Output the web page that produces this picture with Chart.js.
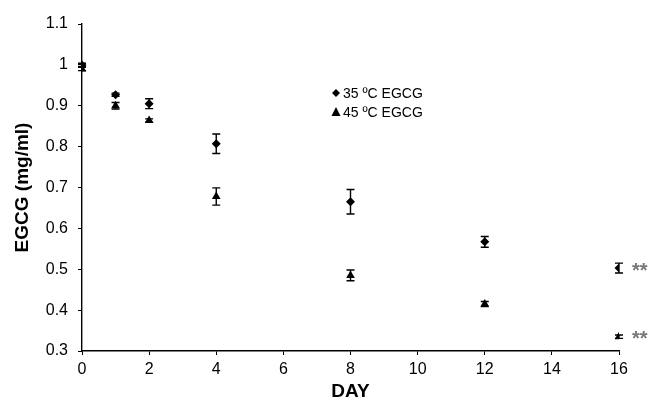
<!DOCTYPE html>
<html>
<head>
<meta charset="utf-8">
<script src="https://cdn.jsdelivr.net/npm/chart.js@4/dist/chart.umd.min.js"></script>
<style>
html,body{margin:0;padding:0;background:#fff;}
#wrap{width:656px;height:403px;position:relative;}
</style>
</head>
<body>
<div id="wrap"><canvas id="c" width="656" height="403"></canvas></div>
<script>
const days = [0, 1, 2, 4, 8, 12, 16];
const egcg35 = [1.0, 0.927, 0.905, 0.807, 0.665, 0.567, 0.503];
const err35 = [0.004, 0.004, 0.012, 0.024, 0.03, 0.013, 0.012];
const egcg45 = [0.99, 0.9, 0.864, 0.678, 0.485, 0.415, 0.335];
const err45 = [0.004, 0.008, 0.004, 0.021, 0.013, 0.006, 0.004];
const xTicks = [0, 2, 4, 6, 8, 10, 12, 14, 16];
const yTicks = [0.3, 0.4, 0.5, 0.6, 0.7, 0.8, 0.9, 1.0, 1.1];
const seriesNames = ['35 ºC EGCG', '45 ºC EGCG'];
const sigMarks = ['**', '**'];

const FONT = 'Arial, "Liberation Sans", sans-serif';

const errorBars = {
  id: 'errorBars',
  afterDatasetsDraw(chart) {
    const ctx = chart.ctx, xs = chart.scales.x, ys = chart.scales.y;
    const sets = [[egcg35, err35], [egcg45, err45]];
    ctx.save();
    ctx.strokeStyle = '#000';
    ctx.lineWidth = 1.4;
    sets.forEach(([vals, errs]) => {
      vals.forEach((v, i) => {
        const x = xs.getPixelForValue(days[i]);
        const yt = ys.getPixelForValue(v + errs[i]);
        const yb = ys.getPixelForValue(v - errs[i]);
        ctx.beginPath();
        ctx.moveTo(x, yt); ctx.lineTo(x, yb);
        ctx.moveTo(x - 4, yt); ctx.lineTo(x + 4, yt);
        ctx.moveTo(x - 4, yb); ctx.lineTo(x + 4, yb);
        ctx.stroke();
      });
    });
    // significance marks
    ctx.fillStyle = '#777';
    ctx.font = 'bold 20px ' + FONT;
    ctx.textBaseline = 'middle';
    ctx.textAlign = 'left';
    const last = days.length - 1;
    const sx = xs.getPixelForValue(days[last]) + 13;
    ctx.fillText(sigMarks[0], sx, ys.getPixelForValue(egcg35[last]) + 3);
    ctx.fillText(sigMarks[1], sx, ys.getPixelForValue(egcg45[last]) + 3);
    // legend
    ctx.fillStyle = '#000';
    ctx.font = '14px ' + FONT;
    const lx = 336, ly1 = 93, ly2 = 112;
    ctx.beginPath();
    ctx.moveTo(lx, ly1 - 4); ctx.lineTo(lx + 4, ly1); ctx.lineTo(lx, ly1 + 4); ctx.lineTo(lx - 4, ly1); ctx.closePath();
    ctx.fill();
    ctx.beginPath();
    ctx.moveTo(lx, ly2 - 5); ctx.lineTo(lx + 4.5, ly2 + 4); ctx.lineTo(lx - 4.5, ly2 + 4); ctx.closePath();
    ctx.fill();
    ctx.fillText(seriesNames[0], lx + 7, ly1 + 1);
    ctx.fillText(seriesNames[1], lx + 7, ly2 + 1);
    ctx.restore();
  }
};

new Chart(document.getElementById('c'), {
  type: 'scatter',
  data: {
    datasets: [
      {
        label: seriesNames[0],
        data: days.map((d, i) => ({x: d, y: egcg35[i]})),
        pointStyle: 'rectRot', pointRadius: 4.5,
        backgroundColor: '#000', borderColor: '#000', borderWidth: 0
      },
      {
        label: seriesNames[1],
        data: days.map((d, i) => ({x: d, y: egcg45[i]})),
        pointStyle: 'triangle', pointRadius: 5,
        backgroundColor: '#000', borderColor: '#000', borderWidth: 0
      }
    ]
  },
  options: {
    responsive: false,
    animation: false,
    events: [],
    layout: {padding: {left: 0, top: 24, right: 37, bottom: 0}},
    plugins: {legend: {display: false}, tooltip: {enabled: false}},
    scales: {
      x: {
        type: 'linear', min: 0, max: 16,
        afterBuildTicks: s => { s.ticks = xTicks.map(v => ({value: v})); },
        afterFit: s => { s.height = 52; },
        grid: {drawOnChartArea: false, color: '#000', tickLength: 4, tickWidth: 1},
        border: {color: '#000', width: 1.4},
        ticks: {color: '#000', font: {family: FONT, size: 16}, padding: 5, maxRotation: 0},
        title: {display: true, text: 'DAY', color: '#000', font: {family: FONT, size: 19, weight: 'bold'}, padding: {top: 0, bottom: 0}}
      },
      y: {
        type: 'linear', min: 0.3, max: 1.1,
        afterBuildTicks: s => { s.ticks = yTicks.map(v => ({value: v})); },
        afterFit: s => { s.width = 82; },
        grid: {drawOnChartArea: false, color: '#000', tickLength: 4, tickWidth: 1},
        border: {color: '#000', width: 1.4},
        ticks: {color: '#000', font: {family: FONT, size: 16}, padding: 10,
          callback: v => String(Math.round(v * 10) / 10)},
        title: {display: true, text: 'EGCG (mg/ml)', color: '#000', font: {family: FONT, size: 19, weight: 'bold'}, padding: {top: 11, bottom: 0}}
      }
    }
  },
  plugins: [errorBars]
});
</script>
</body>
</html>
